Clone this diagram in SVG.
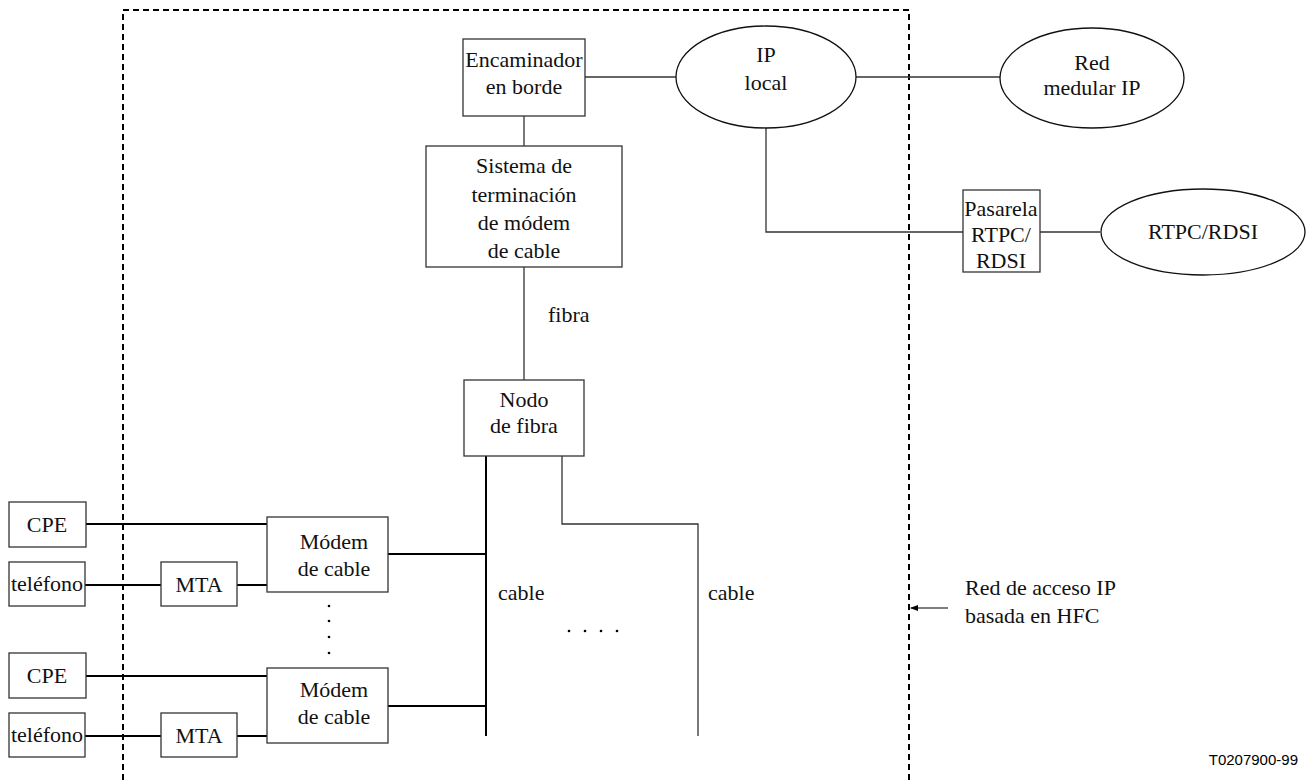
<svg xmlns="http://www.w3.org/2000/svg" width="1308" height="780" viewBox="0 0 1308 780">
<style>
.box{fill:#fff;stroke:#333;stroke-width:1.3}
.ell{fill:#fff;stroke:#111;stroke-width:1.3}
.t{font-family:"Liberation Serif","DejaVu Serif",serif;font-size:22px;fill:#111;text-anchor:middle}
.tl{font-family:"Liberation Serif","DejaVu Serif",serif;font-size:22px;fill:#111}
.ln{fill:none;stroke:#333;stroke-width:1.3}
.lk{fill:none;stroke:#000;stroke-width:2}
.dash{fill:none;stroke:#000;stroke-width:2;stroke-dasharray:6,4}
.dot{fill:#000}
</style>
<defs>
<marker id="ah" markerWidth="8" markerHeight="6" refX="7" refY="3" orient="auto" markerUnits="userSpaceOnUse">
<path d="M0,0 L8,3 L0,6 z" fill="#000"/>
</marker>
</defs>
<rect width="1308" height="780" fill="#fff"/>
<g id="boundary">
<path class="dash" d="M123,780 L123,10 L909,10 L909,780"/>
</g>
<g id="connectors">
<line class="ln" x1="585" y1="77" x2="676" y2="77"/>
<line class="ln" x1="856" y1="77" x2="1000" y2="77"/>
<line class="ln" x1="524" y1="116" x2="524" y2="146"/>
<line class="ln" x1="524" y1="267" x2="524" y2="380"/>
<polyline class="ln" points="766,128 766,232 963,232"/>
<line class="ln" x1="1040" y1="232" x2="1100" y2="232"/>
<line class="lk" x1="486" y1="456" x2="486" y2="736"/>
<polyline class="ln" points="562,456 562,524 698,524 698,736"/>
<line class="lk" x1="388" y1="554" x2="486" y2="554"/>
<line class="lk" x1="388" y1="706" x2="486" y2="706"/>
<line class="lk" x1="86" y1="524" x2="267" y2="524"/>
<line class="lk" x1="85" y1="585" x2="161" y2="585"/>
<line class="lk" x1="237" y1="585" x2="267" y2="585"/>
<line class="lk" x1="86" y1="676" x2="267" y2="676"/>
<line class="lk" x1="85" y1="736" x2="161" y2="736"/>
<line class="lk" x1="237" y1="736" x2="267" y2="736"/>
<line stroke="#000" stroke-width="1.2" x1="948" y1="608" x2="911" y2="608" marker-end="url(#ah)"/>
</g>
<g id="encaminador">
<rect class="box" x="463" y="39" width="122" height="77"/>
<text class="t" x="524" y="67">Encaminador</text>
<text class="t" x="524" y="94">en borde</text>
</g>
<g id="ip-local">
<ellipse class="ell" cx="766" cy="77" rx="90" ry="51"/>
<text class="t" x="766" y="62">IP</text>
<text class="t" x="766" y="90">local</text>
</g>
<g id="red-medular">
<ellipse class="ell" cx="1092" cy="78" rx="92" ry="50"/>
<text class="t" x="1092" y="70">Red</text>
<text class="t" x="1092" y="95">medular IP</text>
</g>
<g id="sistema">
<rect class="box" x="426" y="146" width="196" height="121"/>
<text class="t" x="524" y="173">Sistema de</text>
<text class="t" x="524" y="202">terminación</text>
<text class="t" x="524" y="230">de módem</text>
<text class="t" x="524" y="258">de cable</text>
</g>
<g id="fibra-label">
<text class="tl" x="548" y="322">fibra</text>
</g>
<g id="pasarela">
<rect class="box" x="963" y="190" width="77" height="82"/>
<text class="t" x="1001" y="216">Pasarela</text>
<text class="t" x="1001" y="242">RTPC/</text>
<text class="t" x="1001" y="268">RDSI</text>
</g>
<g id="rtpc">
<ellipse class="ell" cx="1203" cy="232" rx="102" ry="43"/>
<text class="t" x="1203" y="239">RTPC/RDSI</text>
</g>
<g id="nodo">
<rect class="box" x="464" y="380" width="120" height="76"/>
<text class="t" x="524" y="407">Nodo</text>
<text class="t" x="524" y="433">de fibra</text>
</g>
<g id="cable-labels">
<text class="tl" x="498" y="600">cable</text>
<text class="tl" x="708" y="600">cable</text>
<circle class="dot" cx="569" cy="631" r="1.3"/>
<circle class="dot" cx="585" cy="631" r="1.3"/>
<circle class="dot" cx="601" cy="631" r="1.3"/>
<circle class="dot" cx="617" cy="631" r="1.3"/>
</g>
<g id="cpe1">
<rect class="box" x="9" y="502" width="77" height="45"/>
<text class="t" x="47" y="532">CPE</text>
</g>
<g id="tel1">
<rect class="box" x="9" y="562" width="76" height="44"/>
<text class="t" x="47" y="591">teléfono</text>
</g>
<g id="mta1">
<rect class="box" x="161" y="562" width="76" height="44"/>
<text class="t" x="199" y="592">MTA</text>
</g>
<g id="modem1">
<rect class="box" x="267" y="517" width="121" height="75"/>
<text class="t" x="334" y="549">Módem</text>
<text class="t" x="334" y="576">de cable</text>
</g>
<g id="vdots">
<circle class="dot" cx="329" cy="606" r="1.3"/>
<circle class="dot" cx="329" cy="621" r="1.3"/>
<circle class="dot" cx="329" cy="637" r="1.3"/>
<circle class="dot" cx="329" cy="653" r="1.3"/>
</g>
<g id="cpe2">
<rect class="box" x="9" y="653" width="77" height="45"/>
<text class="t" x="47" y="683">CPE</text>
</g>
<g id="tel2">
<rect class="box" x="9" y="713" width="76" height="44"/>
<text class="t" x="47" y="742">teléfono</text>
</g>
<g id="mta2">
<rect class="box" x="161" y="713" width="76" height="44"/>
<text class="t" x="199" y="743">MTA</text>
</g>
<g id="modem2">
<rect class="box" x="267" y="668" width="121" height="75"/>
<text class="t" x="334" y="697">Módem</text>
<text class="t" x="334" y="724">de cable</text>
</g>
<g id="legend">
<text class="tl" x="965" y="595">Red de acceso IP</text>
<text class="tl" x="965" y="623">basada en HFC</text>
<text x="1298" y="765" font-family="Liberation Sans, Arial, sans-serif" font-size="15" text-anchor="end" fill="#000">T0207900-99</text>
</g>
</svg>
